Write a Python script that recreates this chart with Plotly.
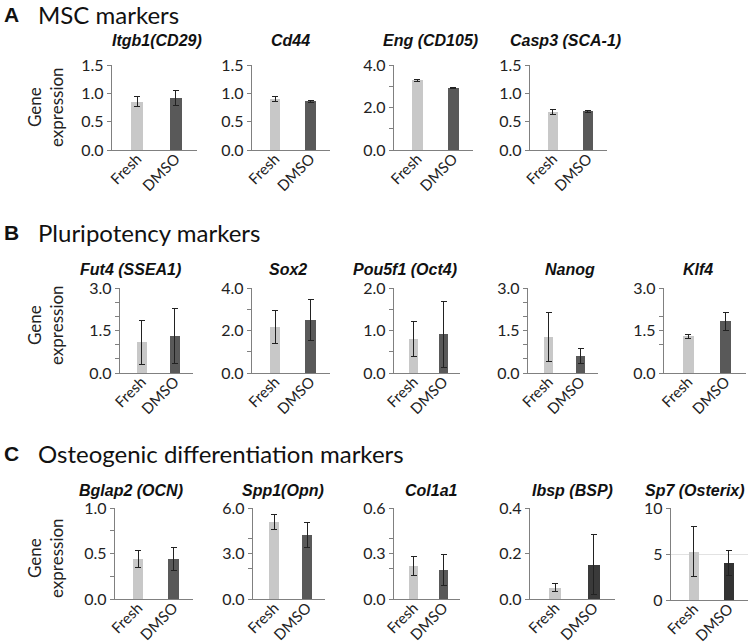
import plotly.graph_objects as go

# ---------------- data ----------------
groups = ["Fresh", "DMSO"]

genes = ["Itgb1(CD29)", "Cd44", "Eng (CD105)", "Casp3 (SCA-1)",
         "Fut4 (SSEA1)", "Sox2", "Pou5f1 (Oct4)", "Nanog", "Klf4",
         "Bglap2 (OCN)", "Spp1(Opn)", "Col1a1", "Ibsp (BSP)", "Sp7 (Osterix)"]

fresh_mean = [0.85, 0.90, 3.29, 0.67,
              1.09, 2.17, 0.81, 1.27, 1.30,
              0.44, 5.08, 0.216, 0.050, 5.25]
fresh_err = [0.09, 0.05, 0.05, 0.05,
             0.78, 0.78, 0.41, 0.87, 0.07,
             0.09, 0.50, 0.062, 0.016, 2.70]
dmso_mean = [0.92, 0.86, 2.92, 0.68,
             1.30, 2.48, 0.91, 0.59, 1.82,
             0.44, 4.22, 0.191, 0.150, 4.04]
dmso_err = [0.13, 0.02, 0.03, 0.02,
            0.97, 0.97, 0.77, 0.27, 0.32,
            0.125, 0.82, 0.100, 0.132, 1.33]

y_max = [1.5, 1.5, 4.0, 1.5,
         3.0, 4.0, 2.0, 3.0, 3.0,
         1.0, 6.0, 0.6, 0.4, 10]
y_ticks = [[0, 0.5, 1.0, 1.5], [0, 0.5, 1.0, 1.5], [0, 1, 2, 3, 4], [0, 0.5, 1.0, 1.5],
           [0, 0.5, 1.0, 1.5, 2.0, 2.5, 3.0], [0, 1, 2, 3, 4], [0, 0.5, 1.0, 1.5, 2.0],
           [0, 0.5, 1.0, 1.5, 2.0, 2.5, 3.0], [0, 1.0, 1.5, 2.0, 3.0],
           [0, 0.25, 0.5, 0.75, 1.0], [0, 2, 3, 4, 6], [0, 0.2, 0.3, 0.4, 0.6],
           [0, 0.2, 0.4], [0, 5, 10]]
y_tick_labels = [["0.0", "0.5", "1.0", "1.5"], ["0.0", "0.5", "1.0", "1.5"],
                 ["0.0", "", "2.0", "", "4.0"], ["0.0", "0.5", "1.0", "1.5"],
                 ["0.0", "", "", "1.5", "", "", "3.0"], ["0.0", "", "2.0", "", "4.0"],
                 ["0.0", "", "1.0", "", "2.0"],
                 ["0.0", "", "", "1.5", "", "", "3.0"], ["0.0", "", "1.5", "", "3.0"],
                 ["0.0", "", "0.5", "", "1.0"], ["0.0", "", "3.0", "", "6.0"],
                 ["0.0", "", "0.3", "", "0.6"],
                 ["0.0", "0.2", "0.4"], ["0", "5", "10"]]

section_letters = ["A", "B", "C"]
section_titles = ["MSC markers", "Pluripotency markers", "Osteogenic differentiation markers"]
y_title = "Gene<br>expression"

# ---------------- layout (pixels) ----------------
W, H = 750, 644


def fx(px):
    return px / W


def fy(py):
    return 1 - py / H


row_of_panel = [0, 0, 0, 0, 1, 1, 1, 1, 1, 2, 2, 2, 2, 2]
panel_x = [(112, 197), (252, 330), (394, 473), (530, 607),
           (120, 193), (252, 330), (394, 460), (528, 598), (664, 746),
           (115, 193), (253, 325), (394, 460), (530, 615), (671, 748)]
title_cx = [157, 290, 430, 565,
            130, 288, 405, 570, 698,
            131, 283, 431, 572, 695]
row_y = [(65, 150), (288, 373), (508, 599)]
row_title_y = [15, 232, 453]
row_sub_y = [40, 269, 490]
row_ylabel_y = [107, 325, 558]

light = "#c8c8c8"
dark = "#595959"
dark_special = {12: "#3a3a3a", 13: "#333333"}
tick_font = dict(family="Lato, Carlito, sans-serif", size=16, color="#222")
xtick_font = dict(family="Lato, Carlito, sans-serif", size=15, color="#222")

fig = go.Figure()
annotations = []

for i, g in enumerate(genes):
    k = i + 1
    xa = "x" if k == 1 else f"x{k}"
    ya = "y" if k == 1 else f"y{k}"
    dcol = dark_special.get(i, dark)
    fig.add_trace(go.Bar(
        x=[0, 1], y=[fresh_mean[i], dmso_mean[i]],
        width=0.3,
        marker=dict(color=[light, dcol], line=dict(width=0)),
        error_y=dict(type="data", array=[fresh_err[i], dmso_err[i]],
                     color="#222", thickness=1, width=3),
        xaxis=xa, yaxis=ya, showlegend=False, hoverinfo="skip",
    ))
    px0, px1 = panel_x[i]
    r = row_of_panel[i]
    py0, py1 = row_y[r]
    if i == 13:
        py0, py1 = 508, 600
    fig.layout[("xaxis" if k == 1 else f"xaxis{k}")] = dict(
        domain=[fx(px0), fx(px1)], anchor=ya,
        range=[-0.65, 1.55], tickvals=[0, 1], ticktext=groups,
        tickangle=-45, tickfont=xtick_font, showline=True,
        linecolor="#808080", linewidth=1.3, ticks="", showgrid=False,
        zeroline=False, fixedrange=True, automargin=False,
        ticklabelstandoff=-7,
    )
    fig.layout[("yaxis" if k == 1 else f"yaxis{k}")] = dict(
        domain=[fy(py1), fy(py0)], anchor=xa,
        range=[0, y_max[i]], tickvals=y_ticks[i], ticktext=y_tick_labels[i],
        tickfont=tick_font, showline=True, linecolor="#808080", linewidth=1.3,
        ticks="outside", ticklen=4, tickcolor="#808080",
        showgrid=(i == 13), gridcolor="#e2e2e2", zeroline=False,
        fixedrange=True, automargin=False,
    )
    annotations.append(dict(
        text=f"<b><i>{g}</i></b>", x=fx(title_cx[i]),
        y=fy(row_sub_y[r]), xref="paper", yref="paper",
        showarrow=False, xanchor="center", yanchor="middle",
        font=dict(family="Liberation Sans, Arial, sans-serif", size=16, color="#111"),
    ))

for r in range(3):
    annotations.append(dict(
        text=f"<b>{section_letters[r]}</b>", x=fx(2), y=fy(row_title_y[r]),
        xref="paper", yref="paper", showarrow=False, xanchor="left", yanchor="middle",
        font=dict(family="Liberation Sans, Arial, sans-serif", size=21, color="#111"),
    ))
    annotations.append(dict(
        text=section_titles[r], x=fx(36), y=fy(row_title_y[r]),
        xref="paper", yref="paper", showarrow=False, xanchor="left", yanchor="middle",
        font=dict(family="Lato, Carlito, sans-serif", size=24, color="#111"),
    ))
    annotations.append(dict(
        text=y_title, x=fx(45), y=fy(row_ylabel_y[r]),
        xref="paper", yref="paper", showarrow=False, xanchor="center", yanchor="middle",
        textangle=-90,
        font=dict(family="Lato, Carlito, sans-serif", size=17, color="#222"),
    ))

fig.update_layout(
    width=W, height=H,
    margin=dict(l=0, r=0, t=0, b=0, pad=0, autoexpand=False),
    paper_bgcolor="white", plot_bgcolor="white",
    annotations=annotations, bargap=0,
)

fig.write_html(
    "out.html",
    config={"displayModeBar": False, "staticPlot": True},
    post_script="document.body.style.margin='0';document.body.style.overflow='hidden';",
)
